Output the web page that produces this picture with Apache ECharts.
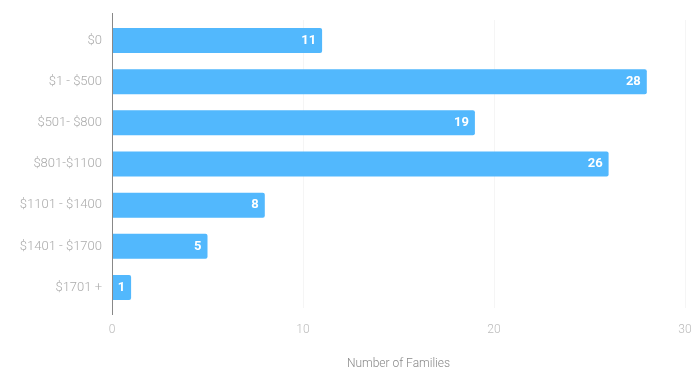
<!DOCTYPE html>
<html>
<head>
<meta charset="utf-8">
<script src="https://cdn.jsdelivr.net/npm/echarts@6/dist/echarts.min.js"></script>
<style>
  html, body { margin: 0; padding: 0; background: #fff; }
  #chart { width: 700px; height: 371px; }
</style>
</head>
<body>
<div id="chart"></div>
<script type="text/javascript">
  // income brackets, top to bottom
  var categories = ['$0', '$1 - $500', '$501- $800', '$801-$1100', '$1101 - $1400', '$1401 - $1700', '$1701 +'];
  var families = [11, 28, 19, 26, 8, 5, 1];
  var xTicks = [0, 10, 20, 30];

  var chart = echarts.init(document.getElementById('chart'));
  var option = {
    animation: false,
    textStyle: { fontFamily: 'Roboto' },
    grid: { left: 112, right: 15, top: 20, bottom: 63, outerBoundsMode: 'none' },
    // y axis line runs a little past the bars, drawn by hand
    graphic: [{
      type: 'line',
      shape: { x1: 112.5, y1: 13, x2: 112.5, y2: 315 },
      style: { stroke: '#888', lineWidth: 1 },
      z: 10
    }],
    xAxis: {
      type: 'value',
      min: xTicks[0],
      max: xTicks[xTicks.length - 1],
      interval: 10,
      name: 'Number of Families',
      nameLocation: 'middle',
      nameGap: 50,
      nameTextStyle: { color: '#888', fontSize: 12, fontWeight: 300 },
      axisLine: { show: false },
      axisTick: { show: false },
      axisLabel: { color: '#bbb', fontSize: 12, fontWeight: 300, margin: 16 },
      splitLine: { show: true, lineStyle: { color: '#f5f5f5' } }
    },
    yAxis: {
      type: 'category',
      inverse: true,
      data: categories,
      axisLine: { show: false },
      axisTick: { show: false },
      axisLabel: { color: '#aaa', fontSize: 13, fontWeight: 300, margin: 10 }
    },
    series: [{
      type: 'bar',
      data: families,
      barWidth: 25,
      itemStyle: { color: '#52b8fd', borderRadius: [0, 2, 2, 0] },
      label: {
        show: true,
        position: 'insideRight',
        color: '#fff',
        fontWeight: 'bold',
        fontSize: 13,
        distance: 6
      }
    }]
  };
  chart.setOption(option);
</script>
</body>
</html>
